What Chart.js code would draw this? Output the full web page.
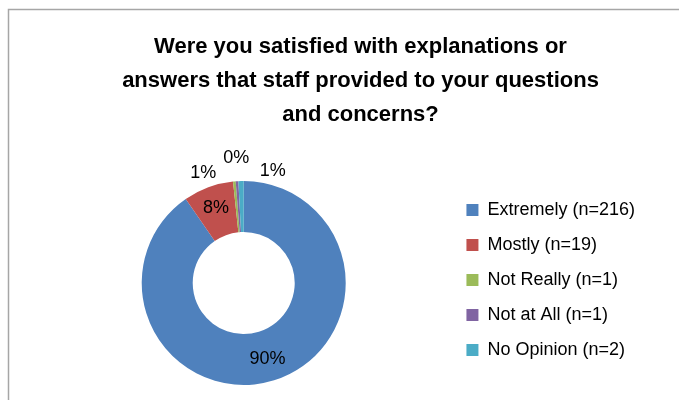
<!DOCTYPE html>
<html>
<head>
<meta charset="utf-8">
<script src="https://cdn.jsdelivr.net/npm/chart.js@4/dist/chart.umd.min.js"></script>
<style>
  html, body { margin: 0; padding: 0; background: #fff; }
  #wrap { width: 679px; height: 400px; position: relative; }
</style>
</head>
<body>
<div id="wrap"><canvas id="chart" width="679" height="400"></canvas></div>
<script>
// data
const categories = ['Extremely (n=216)', 'Mostly (n=19)', 'Not Really (n=1)', 'Not at All (n=1)', 'No Opinion (n=2)'];
const counts = [216, 19, 1, 1, 2];
const pctLabels = ['90%', '8%', '1%', '0%', '1%'];
const colors = ['#4F81BD', '#C0504D', '#9BBB59', '#8064A2', '#4BACC6'];
const titleLines = [
  'Were you satisfied with explanations or',
  'answers that staff provided to your questions',
  'and concerns?'
];

// grey frame of the chart, runs off the right and bottom edge
const framePlugin = {
  id: 'frame',
  beforeDraw(chart) {
    const ctx = chart.ctx;
    ctx.save();
    ctx.strokeStyle = '#a6a6a6';
    ctx.lineWidth = 1.5;
    ctx.strokeRect(8.5, 9.5, 760, 460);
    ctx.restore();
  }
};

// title is centred on the whole frame, not on the canvas minus legend;
// legend sits a little higher than plain centring gives
const boxShift = {
  id: 'boxShift',
  afterLayout(chart) {
    const t = chart.titleBlock;
    if (t) {
      t.left += 19;
      t.right += 19;
    }
    const lg = chart.legend;
    if (lg) {
      lg.top -= 3;
      lg.bottom -= 3;
    }
  }
};

// percentage labels: big slices inside the ring, small ones outside
const nudges = { 2: [-30, 4], 3: [0, -11], 4: [32, 2] };
const pctPlugin = {
  id: 'pctLabels',
  afterDatasetsDraw(chart) {
    const ctx = chart.ctx;
    const meta = chart.getDatasetMeta(0);
    ctx.save();
    ctx.font = '18px "Liberation Sans", Arial, sans-serif';
    ctx.fillStyle = '#000';
    ctx.textAlign = 'center';
    ctx.textBaseline = 'middle';
    meta.data.forEach((arc, i) => {
      const p = arc.getProps(['x', 'y', 'startAngle', 'endAngle', 'innerRadius', 'outerRadius'], true);
      const mid = (p.startAngle + p.endAngle) / 2;
      let r, dx = 0, dy = 0;
      if (nudges[i]) {
        r = p.outerRadius + 12;
        dx = nudges[i][0];
        dy = nudges[i][1];
      } else {
        r = (p.innerRadius + p.outerRadius) / 2 + 3;
      }
      ctx.fillText(pctLabels[i], p.x + Math.cos(mid) * r + dx, p.y + Math.sin(mid) * r + dy);
    });
    ctx.restore();
  }
};

new Chart(document.getElementById('chart'), {
  type: 'doughnut',
  data: {
    labels: categories,
    datasets: [{
      data: counts,
      backgroundColor: colors,
      borderWidth: 0
    }]
  },
  options: {
    responsive: false,
    animation: false,
    cutout: '50%',
    layout: {
      padding: { left: 38, right: 34, top: 0, bottom: 15 }
    },
    plugins: {
      title: {
        display: true,
        text: titleLines,
        color: '#000',
        font: { family: '"Liberation Sans", Arial, sans-serif', size: 22, weight: 'bold', lineHeight: '34px' },
        padding: { top: 30, bottom: 49 }
      },
      legend: {
        position: 'right',
        fullSize: false,
        labels: {
          boxWidth: 12,
          boxHeight: 12,
          padding: 17,
          color: '#000',
          font: { family: '"Liberation Sans", Arial, sans-serif', size: 18 }
        }
      },
      tooltip: { enabled: false }
    }
  },
  plugins: [framePlugin, boxShift, pctPlugin]
});
</script>
</body>
</html>
